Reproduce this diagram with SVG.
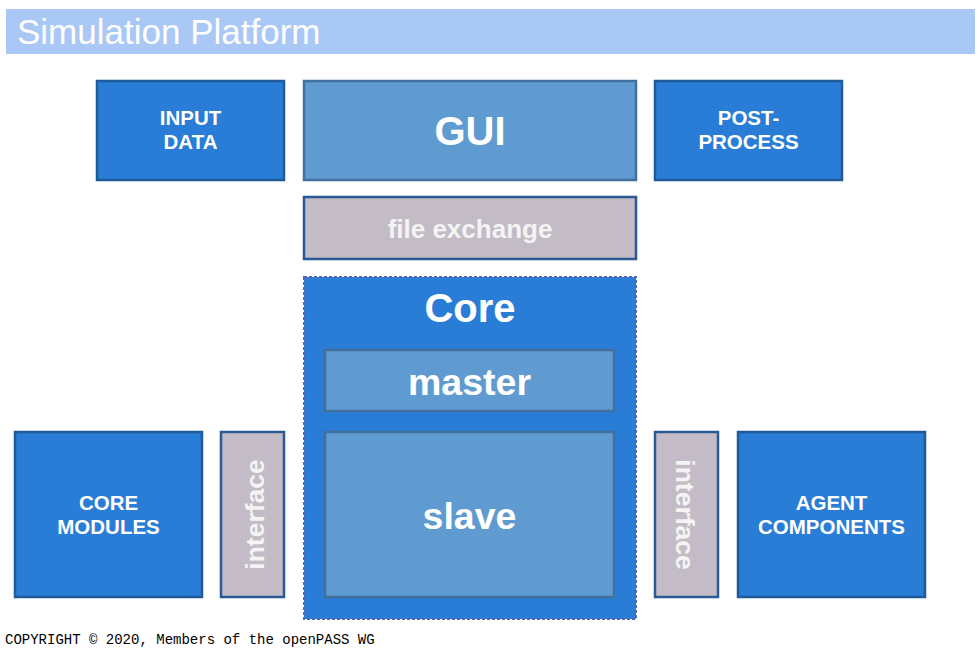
<svg xmlns="http://www.w3.org/2000/svg" width="980" height="651" viewBox="0 0 980 651">
<style>
.blue{fill:#2a7dd6;stroke:#1f5a99;stroke-width:2.5}
.light{fill:#5f9bd0;stroke:#41709e;stroke-width:2.5}
.grey{fill:#c3bcc6;stroke:#285a96;stroke-width:2.5}
.t{font-family:"Liberation Sans",Arial,sans-serif;font-weight:bold;fill:#ffffff;text-anchor:middle}
.s{font-size:20.5px}
.g{fill:#f4f4f4}
</style>
<rect x="6" y="9" width="969" height="45" fill="#aac8f5"/>
<text x="17" y="44" font-family="Liberation Sans,Arial,sans-serif" font-size="35" fill="#ffffff">Simulation Platform</text>
<g id="input-data"><rect class="blue" x="97" y="81" width="187" height="99"/><text class="t s" x="190.5" y="125">INPUT</text><text class="t s" x="190.5" y="149">DATA</text></g>
<g id="gui"><rect class="light" x="304" y="81" width="332" height="99"/><text class="t" font-size="40" x="470" y="145">GUI</text></g>
<g id="post-process"><rect class="blue" x="655" y="81" width="187" height="99"/><text class="t s" x="748.5" y="125">POST-</text><text class="t s" x="748.5" y="149">PROCESS</text></g>
<g id="file-exchange"><rect class="grey" x="304" y="197" width="332" height="62"/><text class="t g" font-size="26" x="470" y="238">file exchange</text></g>
<g id="core"><rect x="304" y="277" width="332" height="342" fill="#2a7dd6" stroke="#4d68b0" stroke-width="2" stroke-dasharray="3,2"/><text class="t" font-size="40" x="470" y="322">Core</text></g>
<g id="master"><rect class="light" x="325" y="350" width="289" height="61"/><text class="t" font-size="37.5" x="469.5" y="395">master</text></g>
<g id="slave"><rect class="light" x="325" y="432" width="289" height="165"/><text class="t" font-size="37.5" x="469.5" y="529">slave</text></g>
<g id="core-modules"><rect class="blue" x="15" y="432" width="187" height="165"/><text class="t s" x="108.5" y="510">CORE</text><text class="t s" x="108.5" y="534">MODULES</text></g>
<g id="interface-left"><rect class="grey" x="221" y="432" width="63" height="165"/><text class="t g" font-size="26.5" transform="translate(263.5,514.5) rotate(-90)">interface</text></g>
<g id="interface-right"><rect class="grey" x="655" y="432" width="63" height="165"/><text class="t g" font-size="26.5" transform="translate(675.5,514.5) rotate(90)">interface</text></g>
<g id="agent-components"><rect class="blue" x="738" y="432" width="187" height="165"/><text class="t s" x="831.5" y="510">AGENT</text><text class="t s" x="831.5" y="534">COMPONENTS</text></g>
<g id="connectors"></g>
<text x="5" y="644" font-family="Liberation Mono,DejaVu Sans Mono,monospace" font-size="14" fill="#000000">COPYRIGHT © 2020, Members of the openPASS WG</text>
</svg>
